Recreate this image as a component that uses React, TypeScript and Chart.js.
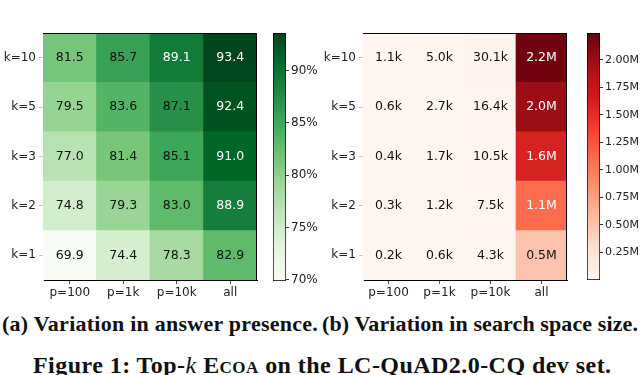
import React, { useEffect, useRef } from "react";
import { Chart, registerables } from "chart.js";
Chart.register(...registerables);

// ---------- data ----------
const columns = ["p=100", "p=1k", "p=10k", "all"];
const rows = ["k=1", "k=2", "k=3", "k=5", "k=10"]; // bottom -> top

const presenceRows = [
  [69.9, 74.4, 78.3, 82.9],
  [74.8, 79.3, 83.0, 88.9],
  [77.0, 81.4, 85.1, 91.0],
  [79.5, 83.6, 87.1, 92.4],
  [81.5, 85.7, 89.1, 93.4],
];
const presenceLabels = presenceRows.map((r) => r.map((v) => v.toFixed(1)));

// search space sizes in thousands
const spaceRows = [
  [0.2, 0.6, 4.3, 500],
  [0.3, 1.2, 7.5, 1100],
  [0.4, 1.7, 10.5, 1600],
  [0.6, 2.7, 16.4, 2000],
  [1.1, 5.0, 30.1, 2200],
];
const spaceLabels = [
  ["0.2k", "0.6k", "4.3k", "0.5M"],
  ["0.3k", "1.2k", "7.5k", "1.1M"],
  ["0.4k", "1.7k", "10.5k", "1.6M"],
  ["0.6k", "2.7k", "16.4k", "2.0M"],
  ["1.1k", "5.0k", "30.1k", "2.2M"],
];

const presenceTicks = [70, 75, 80, 85, 90];
const spaceTicks = [250, 500, 750, 1000, 1250, 1500, 1750, 2000];

const GREENS = ["#f7fcf5", "#e5f5e0", "#c7e9c0", "#a1d99b", "#74c476", "#41ab5d", "#238b45", "#006d2c", "#00441b"];
const REDS = ["#fff5f0", "#fee0d2", "#fcbba1", "#fc9272", "#fb6a4a", "#ef3b2c", "#cb181d", "#a50f15", "#67000d"];

// ---------- helpers ----------
function hexToRgb(h: string) {
  return [parseInt(h.slice(1, 3), 16), parseInt(h.slice(3, 5), 16), parseInt(h.slice(5, 7), 16)];
}
function colorAt(cmap: string[], t: number) {
  t = Math.max(0, Math.min(1, t));
  const n = cmap.length - 1;
  const i = Math.min(n - 1, Math.floor(t * n));
  const f = t * n - i;
  const a = hexToRgb(cmap[i]);
  const b = hexToRgb(cmap[i + 1]);
  const c = a.map((x, k) => Math.round(x + (b[k] - x) * f));
  return `rgb(${c[0]},${c[1]},${c[2]})`;
}

const TICK_FONT = { family: "'DejaVu Sans', sans-serif", size: 12 };
const TEXT = "#222";

function makeHeatmap(
  canvas: HTMLCanvasElement,
  values: number[][],
  labels: string[][],
  cmap: string[],
  vmin: number,
  vmax: number,
  whiteAbove: number
) {
  const cellLabels = {
    id: "cellLabels",
    afterDatasetsDraw(chart: any) {
      const { ctx } = chart;
      ctx.save();
      ctx.font = "12.5px 'DejaVu Sans', sans-serif";
      ctx.textAlign = "center";
      ctx.textBaseline = "middle";
      chart.data.datasets.forEach((_: any, di: number) => {
        const meta = chart.getDatasetMeta(di);
        meta.data.forEach((el: any, ci: number) => {
          const v = values[di][ci];
          const t = (v - vmin) / (vmax - vmin);
          const p = el.getCenterPoint();
          ctx.fillStyle = t > whiteAbove ? "#ffffff" : "#111111";
          ctx.fillText(labels[di][ci], p.x, p.y);
        });
      });
      ctx.restore();
    },
  };
  const frame = {
    id: "frame",
    afterDraw(chart: any) {
      const { ctx, chartArea: a } = chart;
      ctx.save();
      ctx.strokeStyle = "#000";
      ctx.lineWidth = 1;
      ctx.beginPath();
      ctx.moveTo(a.left, a.top + 0.5);
      ctx.lineTo(a.right - 0.5, a.top + 0.5);
      ctx.lineTo(a.right - 0.5, a.bottom);
      ctx.stroke();
      ctx.restore();
    },
  };
  return new Chart(canvas, {
    type: "bar",
    data: {
      labels: columns,
      datasets: rows.map((r, i) => ({
        label: r,
        data: values[i].map(() => [i - 0.5, i + 0.5]),
        backgroundColor: values[i].map((v) => colorAt(cmap, (v - vmin) / (vmax - vmin))),
        borderWidth: 0,
        grouped: false,
        barPercentage: 1,
        categoryPercentage: 1,
      })) as any,
    },
    options: {
      animation: false,
      responsive: false,
      maintainAspectRatio: false,
      events: [],
      layout: { padding: { top: 33, right: 3, left: 0, bottom: 0 } },
      plugins: { legend: { display: false }, tooltip: { enabled: false } },
      scales: {
        x: {
          type: "category",
          offset: true,
          grid: { display: true, drawOnChartArea: false, offset: false, tickLength: 4, color: "#555" },
          border: { display: true, color: "#000", width: 1 },
          ticks: { color: TEXT, font: TICK_FONT, padding: 2, maxRotation: 0 },
          afterFit: (s: any) => {
            s.height = 30;
          },
        },
        y: {
          type: "linear",
          min: -0.5,
          max: 4.5,
          afterBuildTicks: (s: any) => {
            s.ticks = rows.map((_, i) => ({ value: i }));
          },
          grid: { display: true, drawOnChartArea: false, tickLength: 4, color: "#c8c8c8" },
          border: { display: true, color: "#d0d0d0", width: 1 },
          ticks: {
            color: TEXT,
            font: TICK_FONT,
            padding: 3,
            callback: (v: any) => rows[Math.round(Number(v))] ?? "",
          },
          afterFit: (s: any) => {
            s.width = 43;
          },
        },
      },
    } as any,
    plugins: [cellLabels, frame],
  });
}

function makeColorbar(
  canvas: HTMLCanvasElement,
  cmap: string[],
  vmin: number,
  vmax: number,
  tickValues: number[],
  fmt: (v: number) => string,
  axisWidth: number,
  bottomPad: number,
  fontSize: number
) {
  return new Chart(canvas, {
    type: "bar",
    data: {
      labels: [""],
      datasets: [
        {
          data: [[vmin, vmax]],
          backgroundColor: (c: any) => {
            const { chart } = c;
            const a = chart.chartArea;
            if (!a) return cmap[4];
            const g = chart.ctx.createLinearGradient(0, a.bottom, 0, a.top);
            for (let i = 0; i <= 32; i++) g.addColorStop(i / 32, colorAt(cmap, i / 32));
            return g;
          },
          borderColor: "#000",
          borderWidth: 1,
          borderSkipped: false,
          barPercentage: 1,
          categoryPercentage: 1,
        },
      ] as any,
    },
    options: {
      animation: false,
      responsive: false,
      maintainAspectRatio: false,
      events: [],
      layout: { padding: { top: 33, left: 5, right: 0, bottom: bottomPad } },
      plugins: { legend: { display: false }, tooltip: { enabled: false } },
      scales: {
        x: { display: false, offset: true },
        y: {
          position: "right",
          min: vmin,
          max: vmax,
          afterBuildTicks: (s: any) => {
            s.ticks = tickValues.map((v) => ({ value: v }));
          },
          grid: { display: true, drawOnChartArea: false, tickLength: 3, color: "#333" },
          border: { display: false },
          ticks: {
            color: TEXT,
            font: { family: "'DejaVu Sans', sans-serif", size: fontSize },
            padding: 2,
            callback: (v: any) => fmt(Number(v)),
          },
          afterFit: (s: any) => {
            s.width = axisWidth;
          },
        },
      },
    } as any,
  });
}

export default function App() {
  const h1 = useRef<HTMLCanvasElement>(null);
  const c1 = useRef<HTMLCanvasElement>(null);
  const h2 = useRef<HTMLCanvasElement>(null);
  const c2 = useRef<HTMLCanvasElement>(null);

  useEffect(() => {
    document.body.style.margin = "0";
    const charts = [
      makeHeatmap(h1.current!, presenceRows, presenceLabels, GREENS, 69.9, 93.5, 0.77),
      makeColorbar(c1.current!, GREENS, 69.9, 93.6, presenceTicks, (v) => `${v}%`, 34, 19, 12),
      makeHeatmap(h2.current!, spaceRows, spaceLabels, REDS, 0, 2245, 0.4),
      makeColorbar(c2.current!, REDS, 0, 2245, spaceTicks, (v) => `${(v / 1000).toFixed(2)}M`, 40, 20, 11),
    ];
    return () => charts.forEach((c) => c.destroy());
  }, []);

  const pos = (left: number, top: number): React.CSSProperties => ({ position: "absolute", left, top });
  const cap: React.CSSProperties = {
    position: "absolute",
    fontFamily: "'Liberation Serif', 'Times New Roman', serif",
    fontWeight: "bold",
    fontSize: 22,
    lineHeight: "22px",
    letterSpacing: "0.25px",
    whiteSpace: "nowrap",
    color: "#111",
  };

  return (
    <div style={{ position: "absolute", left: 0, top: 0, width: 640, height: 375, overflow: "hidden", background: "#fff" }}>
      <canvas ref={h1} width={260} height={310} style={pos(0, 0)} />
      <canvas ref={c1} width={52} height={300} style={pos(268, 0)} />
      <canvas ref={h2} width={250} height={310} style={pos(320, 0)} />
      <canvas ref={c2} width={58} height={300} style={pos(582, 0)} />
      <div style={{ ...cap, left: 2, top: 313 }}>(a) Variation in answer presence.</div>
      <div style={{ ...cap, left: 322, top: 313, letterSpacing: "0.1px" }}>(b) Variation in search space size.</div>
      <div style={{ ...cap, left: 33, top: 353, fontSize: 24, lineHeight: "24px", letterSpacing: "0.45px" }}>
        Figure 1: Top-<i style={{ fontWeight: "normal" }}>k</i> <span style={{ fontVariant: "small-caps" }}>Ecoa</span> on the LC-QuAD2.0-CQ dev set.
      </div>
    </div>
  );
}
